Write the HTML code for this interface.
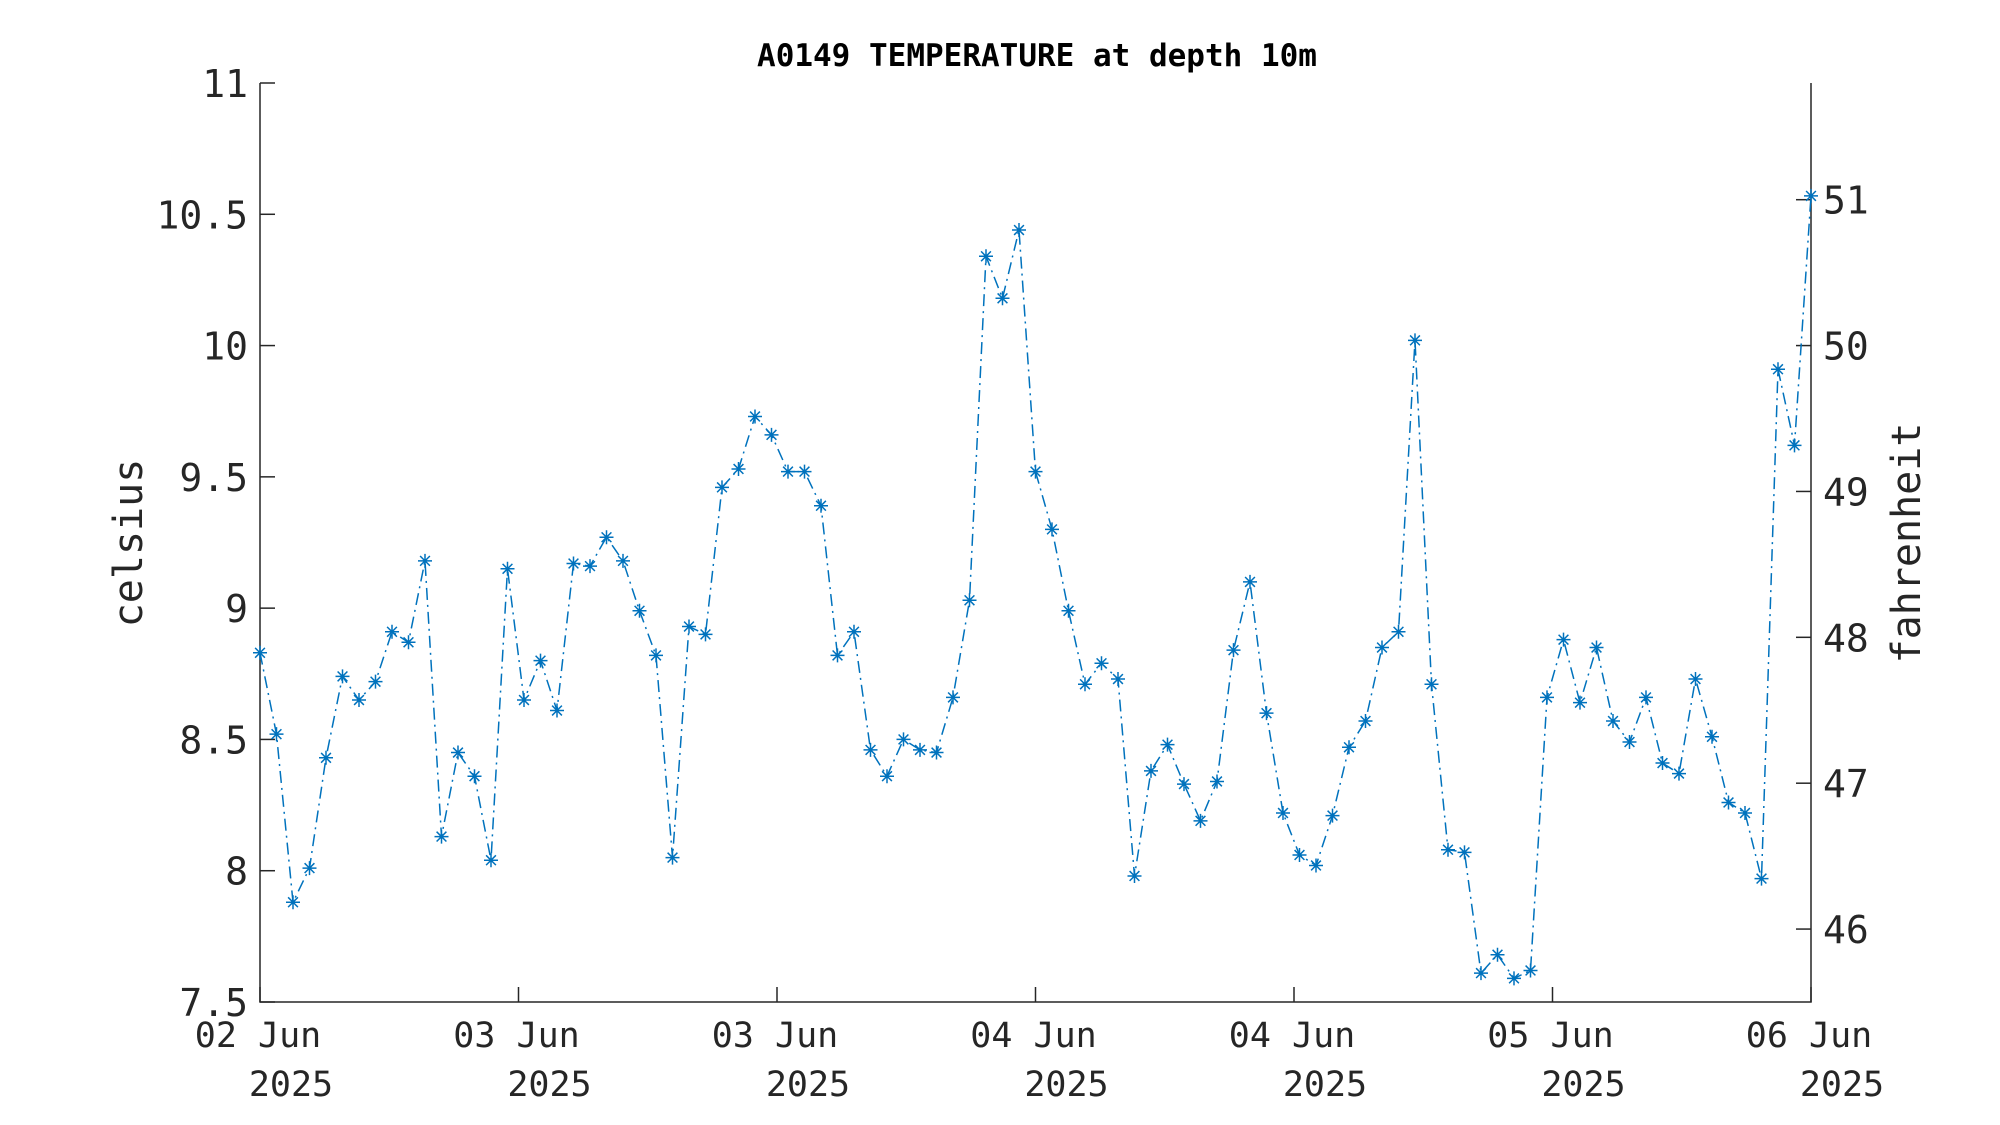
<!DOCTYPE html>
<html><head><meta charset="utf-8"><style>
html,body{margin:0;padding:0;background:#fff;}
svg{display:block;font-family:"DejaVu Sans Mono","Liberation Mono",monospace;}
</style></head><body>
<svg id="chart" width="2000" height="1125" viewBox="0 0 2000 1125">
<text x="1037" y="66" text-anchor="middle" font-size="31" font-weight="bold" fill="#000">A0149 TEMPERATURE at depth 10m</text>
<g id="axes"></g>
<g id="series"></g>
<text transform="translate(142,543) rotate(-90)" text-anchor="middle" font-size="40" fill="#262626">celsius</text>
<text transform="translate(1920,543) rotate(-90)" text-anchor="middle" font-size="40" fill="#262626">fahrenheit</text>
</svg>
<script>
const values = [8.83,8.52,7.88,8.01,8.43,8.74,8.65,8.72,8.91,8.87,9.18,8.13,8.45,8.36,8.04,9.15,8.65,8.80,8.61,9.17,9.16,9.27,9.18,8.99,8.82,8.05,8.93,8.90,9.46,9.53,9.73,9.66,9.52,9.52,9.39,8.82,8.91,8.46,8.36,8.50,8.46,8.45,8.66,9.03,10.34,10.18,10.44,9.52,9.30,8.99,8.71,8.79,8.73,7.98,8.38,8.48,8.33,8.19,8.34,8.84,9.10,8.60,8.22,8.06,8.02,8.21,8.47,8.57,8.85,8.91,10.02,8.71,8.08,8.07,7.61,7.68,7.59,7.62,8.66,8.88,8.64,8.85,8.57,8.49,8.66,8.41,8.37,8.73,8.51,8.26,8.22,7.97,9.91,9.62,10.57];
const yTicks = [7.5,8,8.5,9,9.5,10,10.5,11];
const yTickLabels = ["7.5","8","8.5","9","9.5","10","10.5","11"];
const fTicks = [46,47,48,49,50,51];
const xTickLabels = ["02 Jun","03 Jun","03 Jun","04 Jun","04 Jun","05 Jun","06 Jun"];
const NS="http://www.w3.org/2000/svg";
const L=260,R=1811,T=83,B=1002,ymin=7.5,ymax=11;
const ys=v=>B-(v-ymin)/(ymax-ymin)*(B-T);
const xs=i=>L+i/(values.length-1)*(R-L);
const fs=f=>ys((f-32)/1.8);
const axes=document.getElementById('axes'),ser=document.getElementById('series');
function mk(tag,attrs,parent){const e=document.createElementNS(NS,tag);for(const k in attrs)e.setAttribute(k,attrs[k]);parent.appendChild(e);return e;}
let e=mk('path',{d:`M${L},${T}V${B}H${R}V${T}`,fill:'none',stroke:'#262626','stroke-width':1.5},axes);


yTicks.forEach((v,i)=>{const y=ys(v);
 let t=mk('line',{x1:L,x2:L+15,y1:y,y2:y,stroke:'#262626','stroke-width':1.5},axes);
 
 
 let tx=mk('text',{x:L-12,y:y+14,'text-anchor':'end','font-size':38,fill:'#262626'},axes);
 tx.textContent=yTickLabels[i];
 
 
});
fTicks.forEach(f=>{const y=fs(f);
 let t=mk('line',{x1:R-15,x2:R,y1:y,y2:y,stroke:'#262626','stroke-width':1.5},axes);
 
 
 let tx=mk('text',{x:R+12,y:y+14,'font-size':38,fill:'#262626'},axes);
 tx.textContent=String(f);
 
 
});
xTickLabels.forEach((lab,i)=>{const x=L+i*(R-L)/(xTickLabels.length-1);
 let t=mk('line',{x1:x,x2:x,y1:B,y2:B-15,stroke:'#262626','stroke-width':1.5},axes);
 
 
 let tx=mk('text',{x:x-2,y:B+45,'text-anchor':'middle','font-size':35,fill:'#262626'},axes);
 tx.textContent=lab;
 
 
 let ty=mk('text',{x:x+31,y:B+94,'text-anchor':'middle','font-size':35,fill:'#262626'},axes);
 ty.textContent='2025';
 
 
});
let d=values.map((v,i)=>(i?'L':'M')+xs(i).toFixed(1)+','+ys(v).toFixed(1)).join('');
let line=mk('path',{d:d,fill:'none',stroke:'#0072BD','stroke-width':1.5,'stroke-dasharray':'12 5 2 5'},ser);


values.forEach((v,i)=>{const x=xs(i),y=ys(v),r=7;
 let p=mk('path',{d:`M${x-r},${y}H${x+r}M${x},${y-r}V${y+r}M${x-r*0.7},${y-r*0.7}L${x+r*0.7},${y+r*0.7}M${x-r*0.7},${y+r*0.7}L${x+r*0.7},${y-r*0.7}`,stroke:'#0072BD','stroke-width':1.5,fill:'none'},ser);
 
 
});
</script>
</body></html>
